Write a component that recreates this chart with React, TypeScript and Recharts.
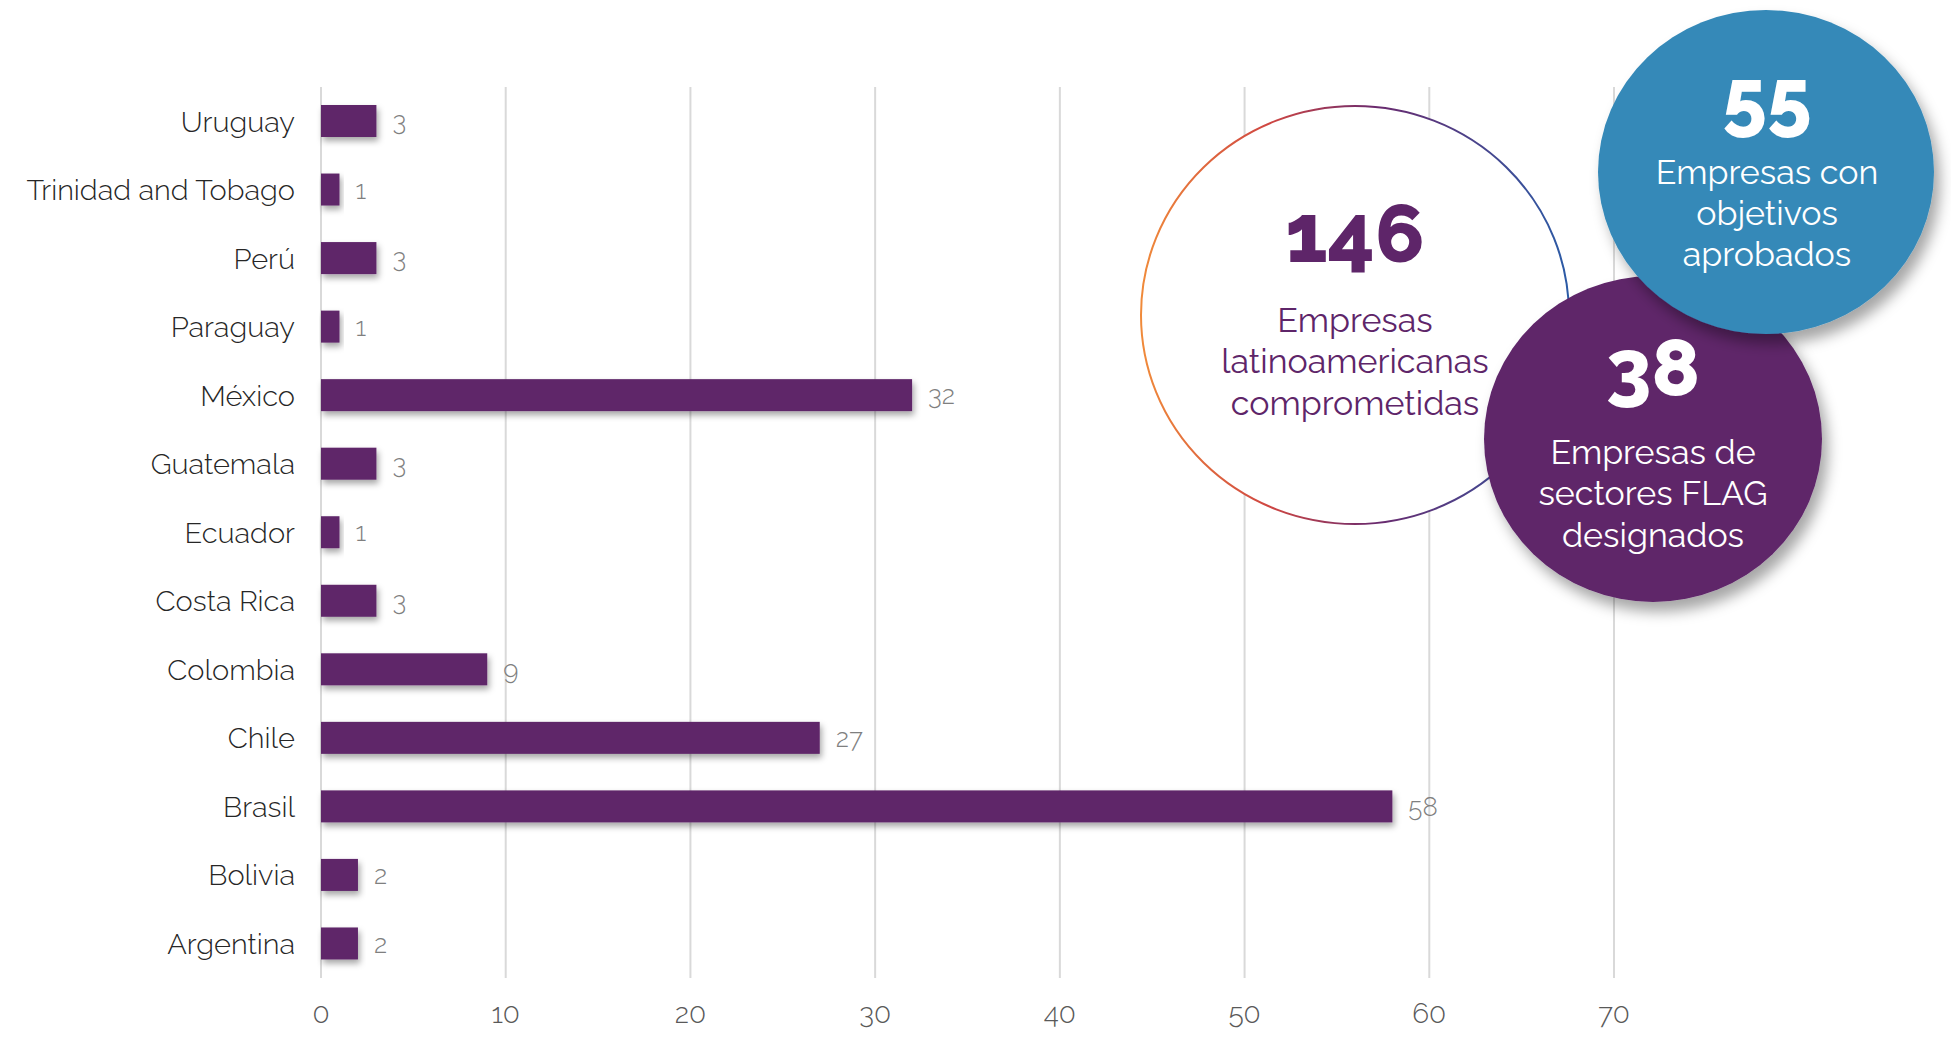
import React from "react";
import {
  Bar,
  BarChart,
  CartesianGrid,
  LabelList,
  XAxis,
  YAxis,
} from "recharts";

// Countries top-to-bottom as they appear in the chart.
const countries = [
  "Uruguay",
  "Trinidad and Tobago",
  "Perú",
  "Paraguay",
  "México",
  "Guatemala",
  "Ecuador",
  "Costa Rica",
  "Colombia",
  "Chile",
  "Brasil",
  "Bolivia",
  "Argentina",
];
const companies = [3, 1, 3, 1, 32, 3, 1, 3, 9, 27, 58, 2, 2];
const xTicks = [0, 10, 20, 30, 40, 50, 60, 70];

const PURPLE = "#5E2569";
const BLUE = "#3589B8";
const FONT = "Raleway, Lato, sans-serif";

const rows = countries.map((country, i) => ({ country, value: companies[i] }));

function ShadowBar(props: any) {
  const { x, y, width, height, fill } = props;
  if (!width || width <= 0) return null;
  return (
    <rect
      x={x}
      y={y}
      width={width}
      height={height}
      fill={fill}
      filter="url(#barShadow)"
    />
  );
}

// Callout bubbles drawn over the right side of the plot.
function Bubbles() {
  const lineStyle = { fontFamily: FONT, fontSize: 34, textAnchor: "middle" as const };
  return (
    <svg
      width={1951}
      height={1043}
      style={{ position: "absolute", left: 0, top: 0, pointerEvents: "none" }}
    >
      <defs>
        <filter id="barShadow" x="-10%" y="-30%" width="130%" height="180%">
          <feDropShadow dx="2" dy="4" stdDeviation="3" floodColor="#000" floodOpacity="0.35" />
        </filter>
        <filter id="bubbleShadow" x="-20%" y="-20%" width="150%" height="150%">
          <feDropShadow dx="6" dy="10" stdDeviation="7" floodColor="#000" floodOpacity="0.35" />
        </filter>
        <linearGradient id="ringGrad" x1="0" y1="0" x2="1" y2="0">
          <stop offset="0" stopColor="#F08A3A" />
          <stop offset="0.3" stopColor="#CF4642" />
          <stop offset="0.55" stopColor="#6A2A6E" />
          <stop offset="1" stopColor="#2B5BA6" />
        </linearGradient>
      </defs>

      <ellipse cx={1355} cy={315} rx={214} ry={209} fill="#fff" stroke="url(#ringGrad)" strokeWidth={2} />
      <text x={1355} y={262} fill={PURPLE} fontFamily={FONT} fontSize={82} fontWeight={800} textAnchor="middle">
        146
      </text>
      <text x={1355} y={332} fill={PURPLE} {...lineStyle}>Empresas</text>
      <text x={1355} y={373} fill={PURPLE} {...lineStyle}>latinoamericanas</text>
      <text x={1355} y={415} fill={PURPLE} {...lineStyle}>comprometidas</text>

      <ellipse cx={1653} cy={439} rx={169} ry={163} fill={PURPLE} filter="url(#bubbleShadow)" />
      <text x={1653} y={396} fill="#fff" fontFamily={FONT} fontSize={80} fontWeight={800} textAnchor="middle">
        38
      </text>
      <text x={1653} y={464} fill="#fff" {...lineStyle}>Empresas de</text>
      <text x={1653} y={505} fill="#fff" {...lineStyle}>sectores FLAG</text>
      <text x={1653} y={547} fill="#fff" {...lineStyle}>designados</text>

      <ellipse cx={1766} cy={172} rx={168} ry={162} fill={BLUE} filter="url(#bubbleShadow)" />
      <text x={1767} y={126} fill="#fff" fontFamily={FONT} fontSize={80} fontWeight={800} textAnchor="middle">
        55
      </text>
      <text x={1767} y={184} fill="#fff" {...lineStyle}>Empresas con</text>
      <text x={1767} y={225} fill="#fff" {...lineStyle}>objetivos</text>
      <text x={1767} y={266} fill="#fff" {...lineStyle}>aprobados</text>
    </svg>
  );
}

export default function App() {
  return (
    <div
      style={{
        position: "absolute",
        left: 0,
        top: 0,
        width: 1951,
        height: 1043,
        background: "#fff",
      }}
    >
      <BarChart
        width={1951}
        height={1043}
        data={rows}
        layout="vertical"
        margin={{ top: 87, right: 337, bottom: 0, left: 0 }}
        barSize={32}
      >
        <CartesianGrid horizontal={false} stroke="#d9d9d9" strokeWidth={2} />
        <XAxis
          type="number"
          domain={[0, 70]}
          ticks={xTicks}
          axisLine={false}
          tickLine={false}
          tickSize={0}
          tickMargin={25}
          height={65}
          tick={{ fontFamily: FONT, fontSize: 28, fontWeight: 300, fill: "#595959" }}
        />
        <YAxis
          type="category"
          dataKey="country"
          width={321}
          axisLine={false}
          tickLine={false}
          tickSize={0}
          tickMargin={26}
          interval={0}
          tick={{ fontFamily: FONT, fontSize: 29, fontWeight: 300, fill: "#262626" }}
        />
        <Bar dataKey="value" fill={PURPLE} isAnimationActive={false} shape={ShadowBar}>
          <LabelList
            dataKey="value"
            position="right"
            offset={16}
            fill="#7f7f7f"
            fontFamily={FONT}
            fontSize={26}
            fontWeight={300}
          />
        </Bar>
      </BarChart>
      <Bubbles />
    </div>
  );
}
